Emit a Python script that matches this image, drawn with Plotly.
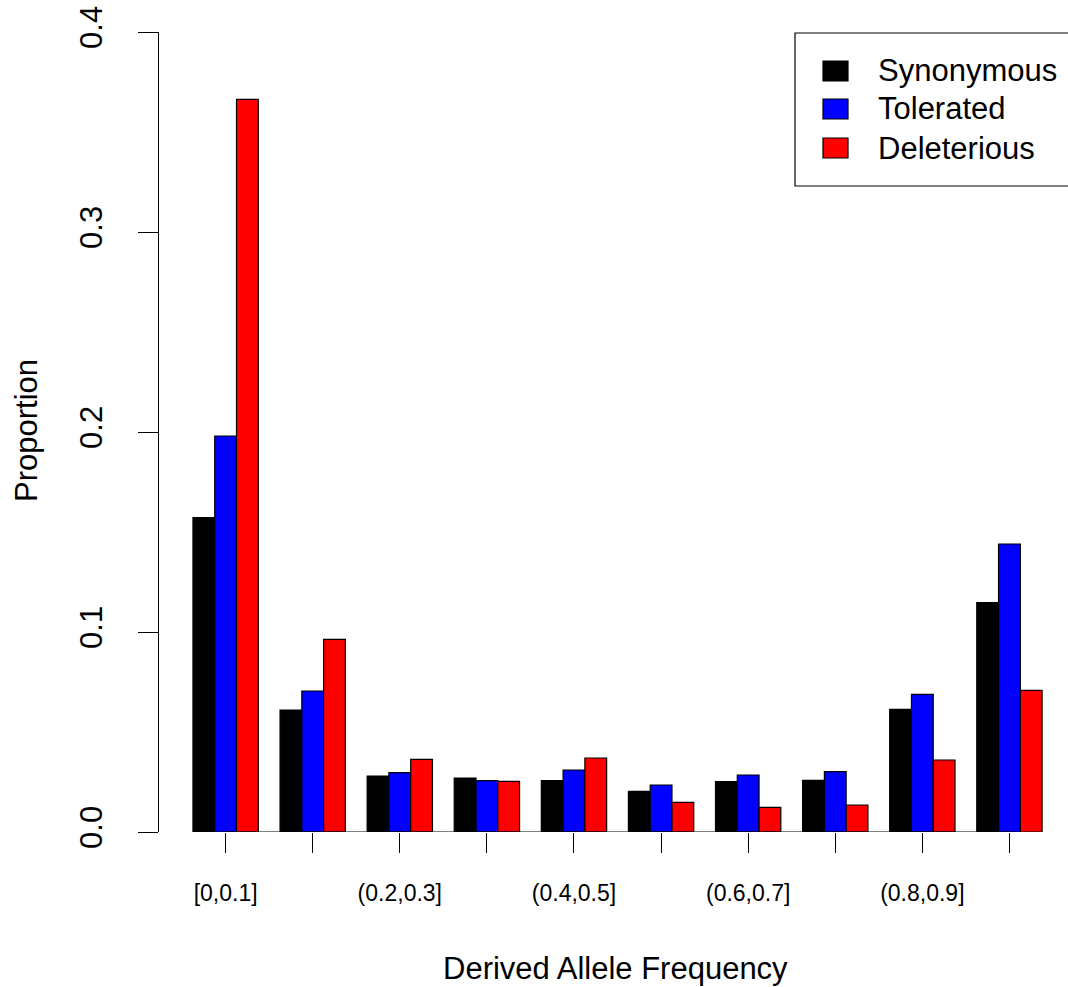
import plotly.graph_objects as go

# ---- data ----
categories = ["[0,0.1]", "(0.1,0.2]", "(0.2,0.3]", "(0.3,0.4]", "(0.4,0.5]",
              "(0.5,0.6]", "(0.6,0.7]", "(0.7,0.8]", "(0.8,0.9]", "(0.9,1]"]
shown_labels = ["[0,0.1]", "", "(0.2,0.3]", "", "(0.4,0.5]",
                "", "(0.6,0.7]", "", "(0.8,0.9]", ""]
series_names = ["Synonymous", "Tolerated", "Deleterious"]
synonymous = [0.1572, 0.0610, 0.0280, 0.0270, 0.0257, 0.0203, 0.0252, 0.0258, 0.0613, 0.1147]
tolerated = [0.1980, 0.0705, 0.0297, 0.0257, 0.0310, 0.0235, 0.0285, 0.0302, 0.0688, 0.1440]
deleterious = [0.3663, 0.0963, 0.0363, 0.0253, 0.0370, 0.0148, 0.0123, 0.0135, 0.0360, 0.0708]
series_values = [synonymous, tolerated, deleterious]
colors = ["#000000", "#0000FF", "#FF0000"]
y_ticks = [0.0, 0.1, 0.2, 0.3, 0.4]
y_ticktext = ["0.0", "0.1", "0.2", "0.3", "0.4"]

FONT = "Liberation Sans, Arial, Helvetica, sans-serif"
W, H = 1068, 987
L, R, T, B = 159, 0, 32, 155

fig = go.Figure()
for name, vals, col in zip(series_names, series_values, colors):
    fig.add_trace(go.Bar(x=categories, y=vals, name=name, marker_color=col,
                         marker_line_color="black", marker_line_width=1.2,
                         showlegend=False))

def px_x(px):
    return (px - L) / (W - L - R)

def px_y(py):
    return (H - B - py) / (H - T - B)

shapes = []
# x axis line between first and last tick
shapes.append(dict(type="line", xref="x", yref="y", x0=categories[0], x1=categories[-1],
                   y0=0, y1=0, line=dict(color="black", width=1), layer="above"))
# legend box
shapes.append(dict(type="rect", xref="paper", yref="paper", x0=px_x(795), x1=px_x(1090),
                   y0=px_y(186), y1=px_y(33), line=dict(color="black", width=1.2),
                   fillcolor="rgba(0,0,0,0)"))
annotations = []
row_y = [71, 109, 148]
for name, col, ry in zip(series_names, colors, row_y):
    shapes.append(dict(type="rect", xref="paper", yref="paper", x0=px_x(823), x1=px_x(848),
                       y0=px_y(ry + 10), y1=px_y(ry - 10), fillcolor=col,
                       line=dict(color="black", width=1.2)))
    annotations.append(dict(text=name, xref="paper", yref="paper", x=px_x(876), y=px_y(ry),
                            xanchor="left", yanchor="middle", showarrow=False,
                            font=dict(family=FONT, size=31, color="black")))
annotations.append(dict(text="Derived Allele Frequency", xref="paper", yref="paper",
                        x=px_x(615), y=px_y(968), xanchor="center", yanchor="middle",
                        showarrow=False, font=dict(family=FONT, size=31, color="black")))
annotations.append(dict(text="Proportion", xref="paper", yref="paper",
                        x=px_x(26), y=px_y(431), xanchor="center", yanchor="middle",
                        textangle=-90, showarrow=False,
                        font=dict(family=FONT, size=31, color="black")))

n = len(categories)
fig.update_layout(
    width=W, height=H,
    margin=dict(l=L, r=R, t=T, b=B, pad=0),
    paper_bgcolor="white", plot_bgcolor="white",
    barmode="group", bargap=0.25, bargroupgap=0,
    shapes=shapes, annotations=annotations,
    font=dict(family=FONT, color="black"),
    showlegend=False,
)
fig.update_xaxes(
    type="category", range=[-0.765, n - 1 + 0.6725],
    tickmode="array", tickvals=categories, ticktext=shown_labels,
    ticks="outside", ticklen=20, tickwidth=1.2, tickcolor="black",
    ticklabelstandoff=20,
    showline=False, showgrid=False, zeroline=False,
    tickfont=dict(family=FONT, size=23, color="black"),
)
fig.update_yaxes(
    range=[0, 0.4], tickmode="array", tickvals=y_ticks, ticktext=y_ticktext,
    ticks="outside", ticklen=20, tickwidth=1.2, tickcolor="black",
    tickangle=-90, ticklabelstandoff=24,
    showline=True, linecolor="black", linewidth=1.2,
    showgrid=False, zeroline=False,
    tickfont=dict(family=FONT, size=31, color="black"),
)

fig.write_html("out.html")
